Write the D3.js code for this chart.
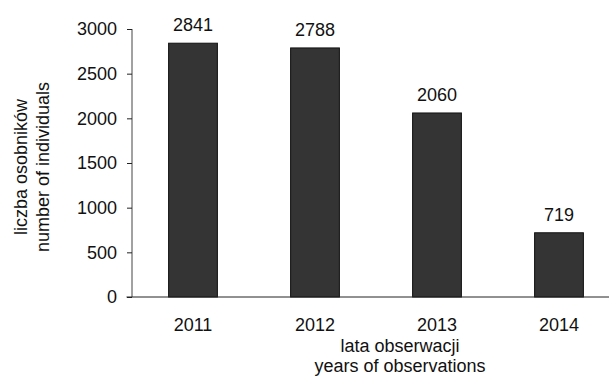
<!DOCTYPE html>
<html>
<head>
<meta charset="utf-8">
<script src="https://cdn.jsdelivr.net/npm/d3@7"></script>
<style>
  html, body { margin: 0; padding: 0; background: #fff; }
  svg { display: block; font-family: "Liberation Sans", Arial, sans-serif; }
</style>
</head>
<body>
<svg id="chart" width="609" height="376"></svg>
<script>
// Number of individuals recorded per observation year
const years = ["2011", "2012", "2013", "2014"];
const counts = [2841, 2788, 2060, 719];
const yTicks = [0, 500, 1000, 1500, 2000, 2500, 3000];
const yTitle = ["liczba osobników", "number of individuals"];
const xTitle = ["lata obserwacji", "years of observations"];

const svg = d3.select("#chart");
const fontSize = 18;
const family = "'Liberation Sans', Arial, sans-serif";

const x = d3.scaleBand()
  .domain(years)
  .range([132, 620])
  .paddingInner(0.6)
  .paddingOuter(0.3);

const y = d3.scaleLinear()
  .domain([0, 3000])
  .range([297, 29]);

// bars
svg.append("g")
  .selectAll("rect")
  .data(years)
  .join("rect")
  .attr("x", d => x(d))
  .attr("y", (d, i) => y(counts[i]))
  .attr("width", x.bandwidth())
  .attr("height", (d, i) => y(0) - y(counts[i]))
  .attr("fill", "#333433")
  .attr("stroke", "#111")
  .attr("stroke-width", 1);

// value labels above bars
svg.append("g")
  .selectAll("text")
  .data(years)
  .join("text")
  .attr("x", d => x(d) + x.bandwidth() / 2)
  .attr("y", (d, i) => y(counts[i]) - 12)
  .attr("text-anchor", "middle")
  .attr("font-size", fontSize)
  .attr("font-family", family)
  .attr("fill", "#111")
  .text((d, i) => counts[i]);

// y axis
const yAxis = svg.append("g")
  .attr("transform", "translate(132,0)")
  .call(d3.axisLeft(y).tickValues(yTicks).tickFormat(d3.format("d")).tickSize(5).tickPadding(10));
yAxis.attr("font-size", fontSize).attr("font-family", family);
yAxis.select(".domain").attr("stroke", "#444").attr("d", `M0,${y(3000)}V${y(0)}`);
yAxis.selectAll(".tick line").attr("stroke", "#222");
yAxis.selectAll(".tick text").attr("fill", "#111");

// x axis
const xAxis = svg.append("g")
  .attr("transform", `translate(0,${y(0)})`)
  .call(d3.axisBottom(x).tickSize(0).tickPadding(21));
xAxis.attr("font-size", fontSize).attr("font-family", family);
xAxis.select(".domain").attr("stroke", "#222").attr("d", "M126.5,0H609");
xAxis.selectAll(".tick text").attr("fill", "#111");

// x axis title
svg.append("g")
  .selectAll("text")
  .data(xTitle)
  .join("text")
  .attr("x", 400)
  .attr("y", (d, i) => 352 + i * 20)
  .attr("text-anchor", "middle")
  .attr("font-size", fontSize)
  .attr("font-family", family)
  .attr("fill", "#111")
  .text(d => d);

// y axis title
svg.append("g")
  .selectAll("text")
  .data(yTitle)
  .join("text")
  .attr("transform", (d, i) => `translate(${27 + i * 22},167) rotate(-90)`)
  .attr("text-anchor", "middle")
  .attr("font-size", fontSize)
  .attr("font-family", family)
  .attr("fill", "#111")
  .text(d => d);
</script>
</body>
</html>
